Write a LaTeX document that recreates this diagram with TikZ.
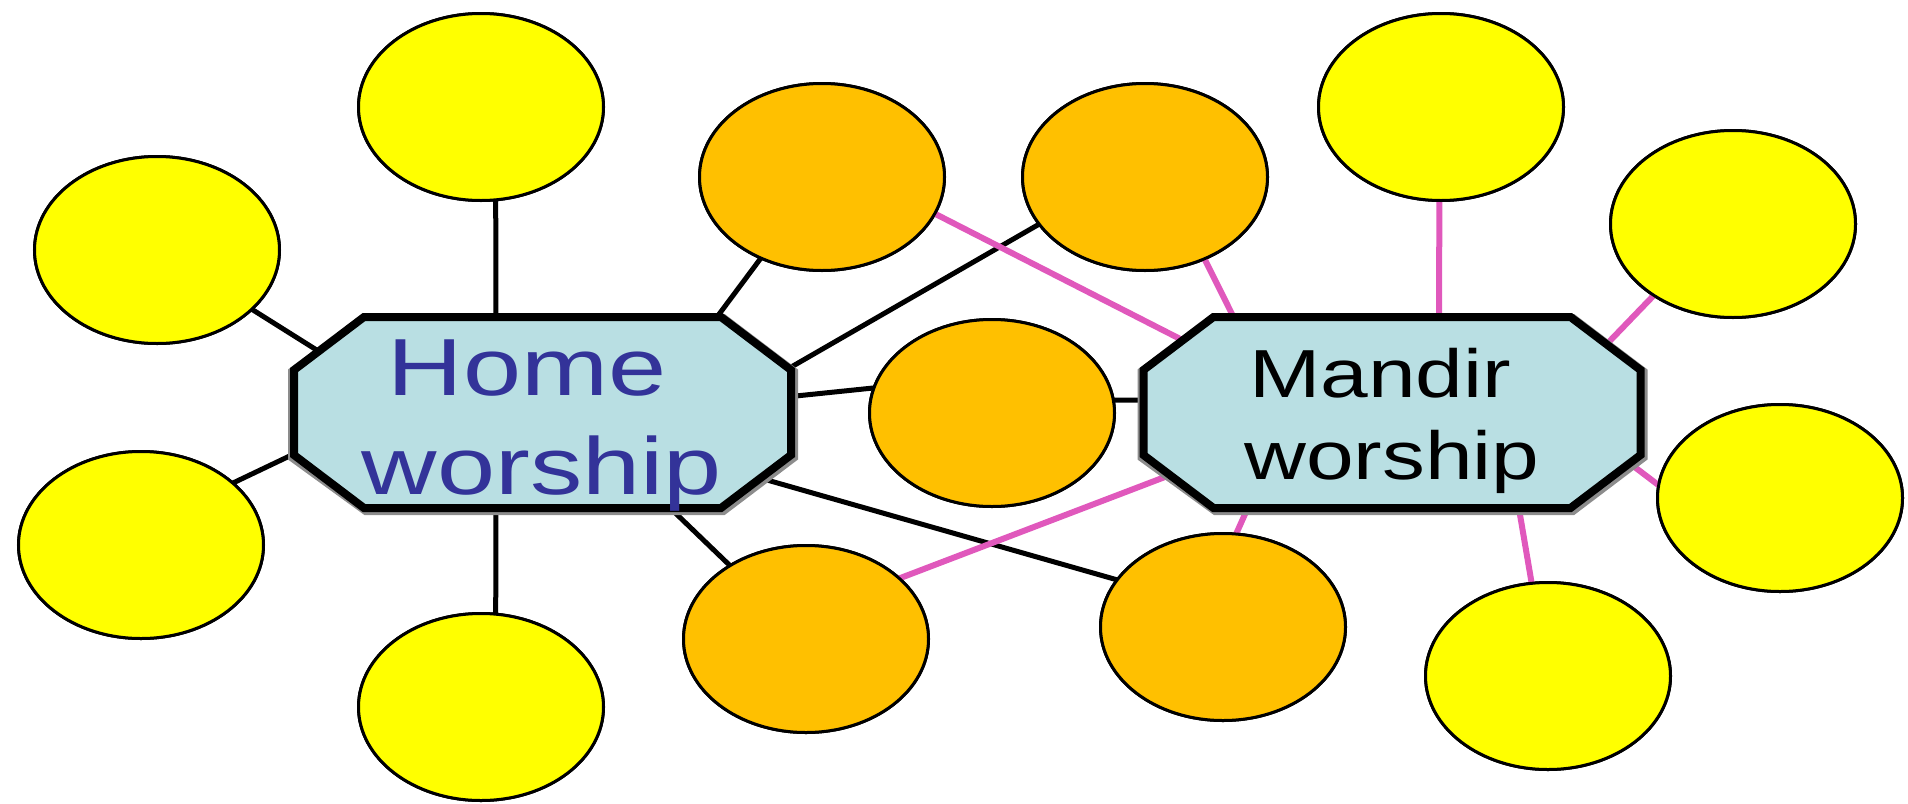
\documentclass[tikz,border=0pt]{standalone}
\usepackage{fontspec}
\setmainfont{Liberation Sans}
\newfontfamily\homefont[FakeStretch=1.29]{Liberation Sans}
\newfontfamily\mandirfont[FakeStretch=1.26]{Liberation Sans}
\usetikzlibrary{shapes.geometric,calc}
\definecolor{yel}{HTML}{FFFF00}
\definecolor{org}{HTML}{FFC000}
\definecolor{octfill}{HTML}{B9DFE3}
\definecolor{homeblue}{HTML}{333399}
\definecolor{pinkline}{HTML}{E058BC}
\begin{document}
\begin{tikzpicture}[x=1pt,y=-1pt,
  bubble/.style={ellipse, draw=black, line width=3pt, minimum width=245pt, minimum height=187pt, inner sep=0pt, outer sep=0pt},
  ybub/.style={bubble, fill=yel},
  obub/.style={bubble, fill=org},
  blk/.style={line width=5pt, draw=black},
  pnk/.style={line width=6pt, draw=pinkline},
  octbox/.style={rectangle, minimum width=497pt, minimum height=191pt, inner sep=0pt, outer sep=0pt},
  octline/.style={line width=8pt, line join=miter, draw=black, fill=octfill},
  octshadow/.style={line width=10pt, line join=miter, draw=black!45},
  hometext/.style={anchor=base, inner sep=0pt, text=homeblue, font=\homefont\fontsize{81}{81}\selectfont},
  mandtext/.style={anchor=base, inner sep=0pt, text=black, font=\mandirfont\fontsize{68}{68}\selectfont}
]
\useasboundingbox (0,0) rectangle (1908,803);

% layout boxes for the two octagons
\node[octbox] (home) at (542.5,412.5) {};
\node[octbox] (mandir) at (1392,412.5) {};

% bubbles
\node[ybub] (ytop) at (481,107) {};
\node[ybub] (ylu) at (157,250) {};
\node[ybub] (yll) at (141,545) {};
\node[ybub] (ybot) at (481,707) {};
\node[ybub] (yrt) at (1441,107) {};
\node[ybub] (yru) at (1733,224) {};
\node[ybub] (yrl) at (1780,498) {};
\node[ybub] (yrb) at (1548,676) {};
\node[obub] (o1) at (822,177) {};
\node[obub] (o2) at (1145,177) {};
\node[obub] (o3) at (992,413) {};
\node[obub] (o4) at (806,639) {};
\node[obub] (o5) at (1223,627) {};

% connection points on the octagons
\coordinate (h1) at (496,322);
\coordinate (h2) at (323,354);
\coordinate (h3) at (298,452);
\coordinate (h4) at (496,503);
\coordinate (h5) at (714,321);
\coordinate (h6) at (786,370);
\coordinate (h7) at (786,397);
\coordinate (h8) at (666,504);
\coordinate (h9) at (760,478);
\coordinate (m1) at (1148,400);
\coordinate (m2) at (1192,345);
\coordinate (m3) at (1236,322);
\coordinate (m4) at (1439,322);
\coordinate (m5) at (1604,347);
\coordinate (m6) at (1624,459);
\coordinate (m7) at (1518,503);
\coordinate (m8) at (1178,472);
\coordinate (m9) at (1250,503);

\begin{scope}[on background layer/.style={}]
% black connectors
\draw[blk] (h1) -- (ytop.-81);
\draw[blk] (h2) -- (ylu.-32);
\draw[blk] (h3) -- (yll.34);
\draw[blk] (h4) -- (ybot.81);
\draw[blk] (h5) -- (o1.233);
\draw[blk] (h6) -- (o2.204);
\draw[blk] (h7) -- (o3.168);
\draw[blk] (h8) -- (o4.136);
\draw[blk] (h9) -- (o5.156);
\draw[blk] (o3.6) -- (m1);
% pink connectors
\draw[pnk] (o1.-18) -- (m2);
\draw[pnk] (o2.-54) -- (m3);
\draw[pnk] (yrt.-91) -- (m4);
\draw[pnk] (yru.222) -- (m5);
\draw[pnk] (yrl.174) -- (m6);
\draw[pnk] (yrb.100) -- (m7);
\draw[pnk] (o4.33) -- (m8);
\draw[pnk] (o5.82) -- (m9);
\end{scope}

% redraw bubbles over connector ends
\foreach \b/\c in {ytop/yel,ylu/yel,yll/yel,ybot/yel,yrt/yel,yru/yel,yrl/yel,yrb/yel,o1/org,o2/org,o3/org,o4/org,o5/org}{
  \path[draw=black, line width=3pt, fill=\c] (\b.center) ellipse [x radius=122.5pt, y radius=93.5pt];
}

% octagons
\foreach \n in {home,mandir}{
  \draw[octshadow] ($(\n.north west)+(72,2)$) -- ($(\n.north east)+(-68,2)$) -- ($(\n.north east)+(2,55)$) -- ($(\n.south east)+(2,-51)$) -- ($(\n.south east)+(-68,2)$) -- ($(\n.south west)+(72,2)$) -- ($(\n.south west)+(-1,-51)$) -- ($(\n.north west)+(-1,55)$) -- cycle;
  \draw[octline] ($(\n.north west)+(70,0)$) -- ($(\n.north east)+(-70,0)$) -- ($(\n.north east)+(0,53)$) -- ($(\n.south east)+(0,-53)$) -- ($(\n.south east)+(-70,0)$) -- ($(\n.south west)+(70,0)$) -- ($(\n.south west)+(0,-53)$) -- ($(\n.north west)+(0,53)$) -- cycle;
}

% labels
\node[hometext] (homeA) at (527,395) {Home};
\node[hometext] (homeB) at (542,494) {worship};
\node[mandtext] (mandA) at (1380,397) {Mandir};
\node[mandtext] (mandB) at (1392,479) {worship};
\end{tikzpicture}
\end{document}
